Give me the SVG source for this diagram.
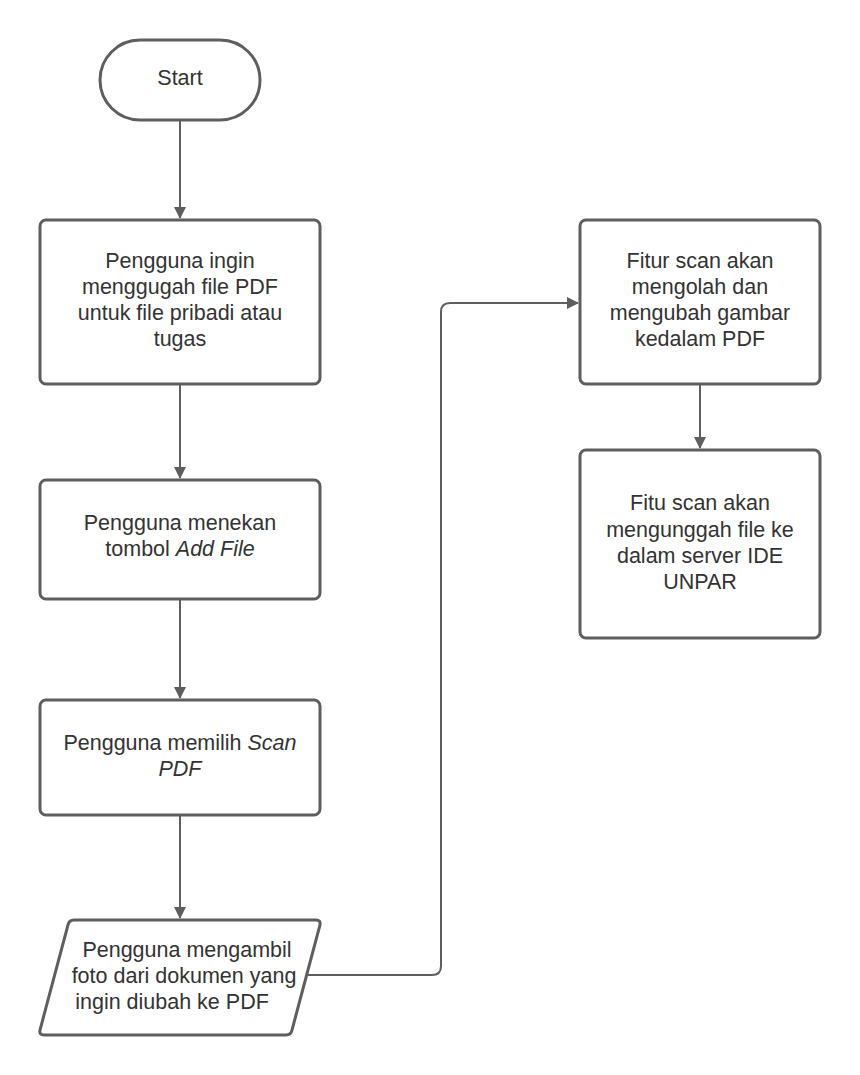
<svg xmlns="http://www.w3.org/2000/svg" width="860" height="1075" viewBox="0 0 860 1075">
<style>
.s{fill:#fff;stroke:#5e5e5e;stroke-width:3}
.t{font-family:"Liberation Sans",Arial,sans-serif;font-size:21.5px;fill:#333;text-anchor:middle}
.c{fill:none;stroke:#5e5e5e;stroke-width:2}
.i{font-style:italic}
</style>
<defs>
<marker id="a" markerWidth="12" markerHeight="12" refX="11" refY="6" orient="auto" markerUnits="userSpaceOnUse">
<path d="M0,0 L12,6 L0,12 Z" fill="#5e5e5e"/>
</marker>
</defs>
<rect width="860" height="1075" fill="#fff"/>
<g id="connectors">
<path class="c" d="M180,121 V218" marker-end="url(#a)"/>
<path class="c" d="M180,385 V478" marker-end="url(#a)"/>
<path class="c" d="M180,600 V698" marker-end="url(#a)"/>
<path class="c" d="M180,815 V918" marker-end="url(#a)"/>
<path class="c" d="M305,975 H432 Q441,975 441,966 V312 Q441,303 450,303 H578" marker-end="url(#a)"/>
<path class="c" d="M700,385 V448" marker-end="url(#a)"/>
</g>
<g id="start">
<rect class="s" x="100" y="40" width="160" height="80" rx="40"/>
<text class="t" x="180" y="85">Start</text>
</g>
<g id="n1">
<rect class="s" x="40" y="220" width="280" height="164" rx="6"/>
<text class="t" x="180" y="268">Pengguna ingin</text>
<text class="t" x="180" y="294">menggugah file PDF</text>
<text class="t" x="180" y="320">untuk file pribadi atau</text>
<text class="t" x="180" y="346">tugas</text>
</g>
<g id="n2">
<rect class="s" x="40" y="480" width="280" height="119" rx="6"/>
<text class="t" x="180" y="530">Pengguna menekan</text>
<text class="t" x="180" y="556">tombol <tspan class="i">Add File</tspan></text>
</g>
<g id="n3">
<rect class="s" x="40" y="700" width="280" height="115" rx="6"/>
<text class="t" x="180" y="750">Pengguna memilih <tspan class="i">Scan</tspan></text>
<text class="t i" x="180" y="776">PDF</text>
</g>
<g id="n4">
<path class="s" d="M74,920 H316 Q321,920 320,925 L292,1030 Q291,1035 286,1035 H44 Q39,1035 40,1030 L68,925 Q69,920 74,920 Z"/>
<text class="t" x="187" y="957">Pengguna mengambil</text>
<text class="t" x="184" y="983">foto dari dokumen yang</text>
<text class="t" x="172" y="1009">ingin diubah ke PDF</text>
</g>
<g id="n5">
<rect class="s" x="580" y="220" width="240" height="164" rx="6"/>
<text class="t" x="700" y="268">Fitur scan akan</text>
<text class="t" x="700" y="294">mengolah dan</text>
<text class="t" x="700" y="320">mengubah gambar</text>
<text class="t" x="700" y="346">kedalam PDF</text>
</g>
<g id="n6">
<rect class="s" x="580" y="450" width="240" height="188" rx="6"/>
<text class="t" x="700" y="510">Fitu scan akan</text>
<text class="t" x="700" y="537">mengunggah file ke</text>
<text class="t" x="700" y="563">dalam server IDE</text>
<text class="t" x="700" y="589">UNPAR</text>
</g>
</svg>
